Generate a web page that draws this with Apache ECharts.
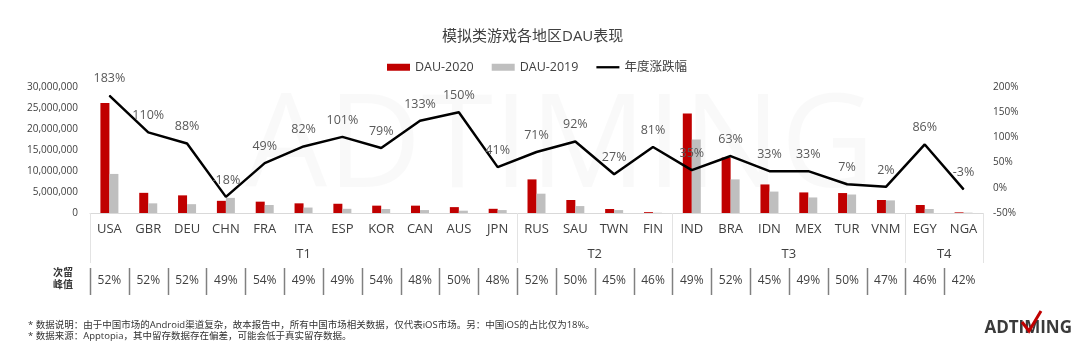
<!DOCTYPE html>
<html lang="zh">
<head>
    <meta charset="UTF-8">
    <title>模拟类游戏各地区DAU表现</title>
    <style>
        html, body { margin: 0; padding: 0; background: #fff; }
        #main { width: 1080px; height: 353px; }
    </style>
</head>
<body>
<script src="https://cdn.jsdelivr.net/npm/echarts@6/dist/echarts.min.js"></script>
<div id="main"></div>
<script type="text/javascript">
    // 数据
    var categories = ['USA', 'GBR', 'DEU', 'CHN', 'FRA', 'ITA', 'ESP', 'KOR', 'CAN', 'AUS', 'JPN',
        'RUS', 'SAU', 'TWN', 'FIN',
        'IND', 'BRA', 'IDN', 'MEX', 'TUR', 'VNM',
        'EGY', 'NGA'];
    var dau2020 = [26200000, 4800000, 4200000, 2900000, 2700000, 2300000, 2200000, 1750000, 1750000, 1400000, 1000000,
        8000000, 3100000, 950000, 200000,
        23700000, 13200000, 6800000, 4900000, 4750000, 3100000,
        1900000, 150000];
    var dau2019 = [9300000, 2300000, 2100000, 3600000, 1900000, 1300000, 1000000, 950000, 700000, 550000, 700000,
        4600000, 1650000, 700000, 60000,
        17500000, 8000000, 5100000, 3700000, 4400000, 3000000,
        950000, 80000];
    var growth = [183, 110, 88, -18, 49, 82, 101, 79, 133, 150, 41,
        71, 92, 27, 81,
        35, 63, 33, 33, 7, 2,
        86, -3];
    var retention = ['52%', '52%', '52%', '49%', '54%', '49%', '49%', '54%', '48%', '50%', '48%',
        '52%', '50%', '45%', '46%',
        '49%', '52%', '45%', '49%', '50%', '47%',
        '46%', '42%'];
    var groupNames = ['T1', 'T2', 'T3', 'T4'];
    var groupStart = [0, 11, 15, 21];
    var groupEnd = [10, 14, 20, 22];
    var leftTicks = [0, 30000000, 5000000];   // min, max, interval
    var rightTicks = [-50, 200, 50];

    var FONT = "'Open Sans', 'Noto Sans CJK SC', sans-serif";
    var TXT = '#404040';

    var myChart = echarts.init(document.getElementById('main'));

    myChart.setOption({
        backgroundColor: '#fff',
        textStyle: { fontFamily: FONT },
        title: {
            text: '模拟类游戏各地区DAU表现',
            left: 437,
            top: 24,
            textStyle: { fontSize: 15, fontWeight: 'normal', color: TXT, fontFamily: FONT }
        },
        legend: {
            left: 382,
            top: 56,
            itemWidth: 23,
            itemHeight: 7,
            itemGap: 18,
            textStyle: { fontSize: 12.5, color: TXT, fontFamily: FONT },
            data: [
                { name: 'DAU-2020', icon: 'rect' },
                { name: 'DAU-2019', icon: 'rect' },
                { name: '年度涨跌幅', icon: 'path://M0,0H30V3H0Z', itemStyle: { color: '#000' } }
            ]
        },
        grid: {
            left: 90,
            right: 97,
            top: 87,
            height: 126
        },
        xAxis: [
            {
                type: 'category',
                data: categories,
                axisLine: { lineStyle: { color: '#d9d9d9', width: 1 } },
                axisTick: {
                    show: true,
                    length: 50,
                    lineStyle: { color: '#e3e3e3', width: 1 },
                    interval: function (index) {
                        return groupStart.indexOf(index) >= 0;
                    }
                },
                axisLabel: { fontSize: 13, color: TXT, margin: 10, interval: 0, fontFamily: FONT }
            },
            {
                // 次留峰值 一行
                type: 'category',
                data: categories,
                position: 'bottom',
                offset: 56,
                axisLine: { show: false },
                axisTick: { show: false },
                axisLabel: {
                    interval: 0,
                    margin: 6,
                    fontSize: 12,
                    color: TXT,
                    fontFamily: FONT,
                    formatter: function (value, index) {
                        return retention[index];
                    }
                }
            }
        ],
        yAxis: [
            {
                type: 'value',
                min: leftTicks[0],
                max: leftTicks[1],
                interval: leftTicks[2],
                splitLine: { show: false },
                axisLine: { show: false },
                axisTick: { show: false },
                axisLabel: {
                    fontSize: 10,
                    color: TXT,
                    margin: 12,
                    fontFamily: FONT,
                    formatter: function (v) {
                        return v.toString().replace(/\B(?=(\d{3})+(?!\d))/g, ',');
                    }
                }
            },
            {
                type: 'value',
                min: rightTicks[0],
                max: rightTicks[1],
                interval: rightTicks[2],
                splitLine: { show: false },
                axisLine: { show: false },
                axisTick: { show: false },
                axisLabel: { fontSize: 10, color: TXT, margin: 10, fontFamily: FONT, formatter: '{value}%' }
            }
        ],
        series: [
            {
                name: 'DAU-2020',
                type: 'bar',
                data: dau2020,
                barWidth: 9,
                barGap: '0%',
                itemStyle: { color: '#c00000' }
            },
            {
                name: 'DAU-2019',
                type: 'bar',
                data: dau2019,
                barWidth: 9,
                barGap: '0%',
                itemStyle: { color: '#bfbfbf' }
            },
            {
                name: '年度涨跌幅',
                type: 'line',
                yAxisIndex: 1,
                data: growth,
                symbol: 'circle',
                symbolSize: 1,
                showSymbol: true,
                z: 5,
                lineStyle: { color: '#000', width: 2.5 },
                itemStyle: { color: '#000' },
                label: {
                    show: true,
                    position: 'top',
                    distance: 10,
                    fontSize: 12.5,
                    color: '#595959',
                    fontFamily: FONT,
                    formatter: '{c}%'
                }
            }
        ]
    });

    // 分组标签、次留分隔线、说明文字等
    var graphics = [];
    var px0 = myChart.convertToPixel({ xAxisIndex: 0 }, categories[0]);
    var px1 = myChart.convertToPixel({ xAxisIndex: 0 }, categories[1]);
    var band = px1 - px0;
    for (var g = 0; g < groupNames.length; g++) {
        var x1 = myChart.convertToPixel({ xAxisIndex: 0 }, categories[groupStart[g]]);
        var x2 = myChart.convertToPixel({ xAxisIndex: 0 }, categories[groupEnd[g]]);
        graphics.push({
            type: 'text',
            x: (x1 + x2) / 2,
            y: 254,
            style: {
                text: groupNames[g],
                fill: TXT,
                font: '13px ' + FONT,
                textAlign: 'center',
                textVerticalAlign: 'middle'
            }
        });
    }
    for (var i = 0; i < categories.length; i++) {
        var bx = Math.round(myChart.convertToPixel({ xAxisIndex: 0 }, categories[i]) - band / 2) + 0.5;
        graphics.push({
            type: 'line',
            shape: { x1: bx, y1: 268, x2: bx, y2: 295 },
            style: { stroke: '#808080', lineWidth: 1.5 }
        });
    }
    graphics.push({
        type: 'text',
        x: 73,
        y: 279,
        style: {
            text: '次留\n峰值',
            fill: '#333',
            font: 'bold 10px ' + FONT,
            lineHeight: 12,
            textAlign: 'right',
            textVerticalAlign: 'middle'
        }
    });
    graphics.push({
        type: 'text',
        x: 28,
        y: 325,
        style: {
            text: '* 数据说明：由于中国市场的Android渠道复杂，故本报告中，所有中国市场相关数据，仅代表iOS市场。另：中国iOS的占比仅为18%。',
            fill: '#333',
            font: '9.5px ' + FONT,
            textVerticalAlign: 'middle'
        }
    });
    graphics.push({
        type: 'text',
        x: 28,
        y: 336,
        style: {
            text: '* 数据来源：Apptopia，其中留存数据存在偏差，可能会低于真实留存数据。',
            fill: '#333',
            font: '9.5px ' + FONT,
            textVerticalAlign: 'middle'
        }
    });
    // logo
    graphics.push({
        type: 'text',
        x: 1072,
        y: 328,
        style: {
            text: 'ADTIMING',
            fill: '#3a3a3a',
            font: 'bold 17px ' + FONT,
            textAlign: 'right',
            textVerticalAlign: 'middle'
        }
    });
    graphics.push({
        type: 'polyline',
        shape: { points: [[1022, 322], [1029, 331], [1041, 311]] },
        style: { stroke: '#c00000', lineWidth: 3, fill: null }
    });
    // 水印
    graphics.push({
        type: 'text',
        x: 560,
        y: 150,
        z: -10,
        style: {
            text: 'ADTIMING',
            fill: 'rgba(0,0,0,0.025)',
            font: '130px ' + FONT,
            textAlign: 'center',
            textVerticalAlign: 'middle'
        }
    });
    myChart.setOption({ graphic: graphics });
</script>
</body>
</html>
